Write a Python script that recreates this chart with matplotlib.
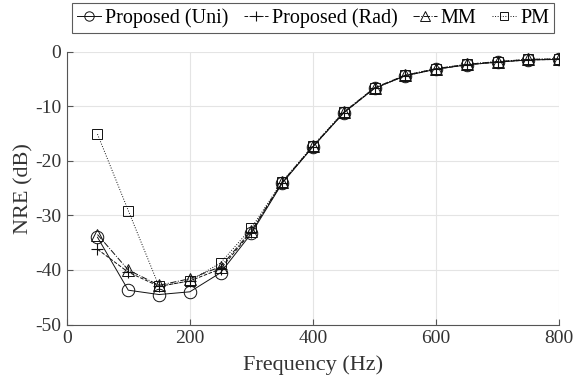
import matplotlib
matplotlib.use('Agg')
import matplotlib.pyplot as plt

plt.rcParams['font.family'] = ['Liberation Serif', 'DejaVu Serif']
plt.rcParams['axes.unicode_minus'] = False

# Данные
freq = [50, 100, 150, 200, 250, 300, 350, 400, 450, 500, 550, 600, 650, 700, 750, 800]
nre_uni = [-34.0, -43.7, -44.5, -44.0, -40.5, -33.3, -24.1, -17.4, -11.2, -6.7, -4.4, -3.2, -2.4, -1.9, -1.5, -1.4]
nre_rad = [-36.2, -40.4, -43.0, -42.0, -39.8, -33.0, -24.0, -17.4, -11.2, -6.7, -4.4, -3.2, -2.4, -1.9, -1.5, -1.4]
nre_mm = [-33.5, -40.0, -42.8, -41.6, -39.4, -32.8, -23.9, -17.3, -11.1, -6.6, -4.3, -3.1, -2.3, -1.8, -1.4, -1.3]
nre_pm = [-15.1, -29.1, -43.0, -42.0, -38.7, -32.3, -23.8, -17.2, -11.0, -6.6, -4.3, -3.1, -2.3, -1.8, -1.4, -1.3]

fig = plt.figure(figsize=(5.76, 3.85), dpi=100)
ax = fig.add_axes([0.1158, 0.157, 0.855, 0.7086])

ax.plot(freq, nre_uni, '-', color='#111111', lw=0.7, marker='o', ms=9, mfc='none', mew=0.7,
        label='Proposed (Uni)')
ax.plot(freq, nre_rad, '--', color='#111111', lw=0.7, marker='+', ms=9, mew=0.8,
        label='Proposed (Rad)')
ax.plot(freq, nre_mm, '-.', color='#111111', lw=0.7, marker='^', ms=9, mfc='none', mew=0.7,
        label='MM')
ax.plot(freq, nre_pm, ':', color='#111111', lw=0.7, marker='s', ms=7, mfc='none', mew=0.7,
        label='PM')

ax.set_xlim(0, 800)
ax.set_ylim(-50, 0)
ax.set_xticks([0, 200, 400, 600, 800])
ax.set_yticks([0, -10, -20, -30, -40, -50])
ax.grid(True, color='#e4e4e4', lw=0.8)
ax.set_axisbelow(True)
for s in ['top', 'right']:
    ax.spines[s].set_visible(False)
for s in ['left', 'bottom']:
    ax.spines[s].set_color('#555555')
ax.tick_params(direction='in', length=4, pad=4, colors='#555555', labelcolor='#333333', labelsize=14)
ax.set_xlabel('Frequency (Hz)', fontsize=16, color='#333333', labelpad=6)
ax.set_ylabel('NRE (dB)', fontsize=16, color='#333333', labelpad=1)

leg = ax.legend(loc='upper center', bbox_to_anchor=(0.5434, 0.992), bbox_transform=fig.transFigure,
                ncol=4, fontsize=14.5, frameon=True, fancybox=False, edgecolor='#333333',
                handlelength=1.2, handletextpad=0.2, columnspacing=0.75, borderpad=0.25,
                borderaxespad=0, markerscale=0.75)
leg.get_frame().set_linewidth(0.8)

fig.savefig('out.png', dpi=100)
